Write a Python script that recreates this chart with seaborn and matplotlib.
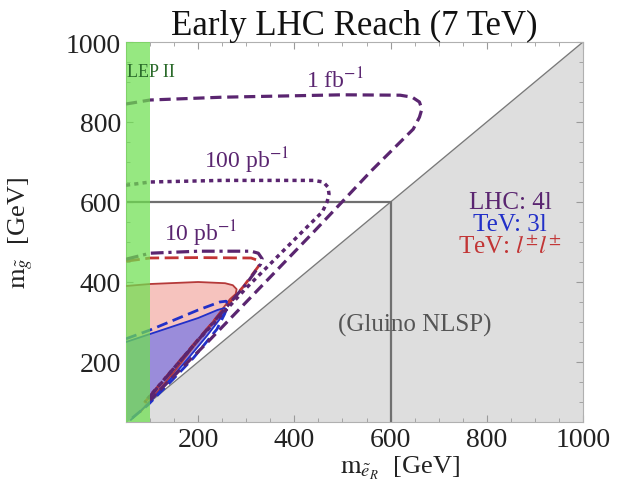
import numpy as np
import pandas as pd
import matplotlib
matplotlib.use("Agg")
import matplotlib.pyplot as plt
import seaborn as sns

# ---------------- data ----------------
# LHC 4l, 1 fb^-1 (purple dashed)
fb1_x = [50, 100, 250, 500, 620, 645, 660, 665, 660, 647, 626, 560, 499, 440, 340, 220, 100]
fb1_y = [845, 855, 862, 868, 867, 862, 850, 832, 812, 782, 757, 678, 600, 525, 400, 250, 105]
# LHC 4l, 100 pb^-1 (purple dotted)
pb100_x = [50, 100, 250, 440, 460, 470, 472, 468, 458, 420, 300, 200, 95]
pb100_y = [642, 650, 654, 654, 650, 637, 620, 600, 575, 530, 385, 255, 108]
# LHC 4l, 10 pb^-1 (purple dash-dot)
pb10_x = [50, 100, 200, 310, 325, 333, 330, 300, 200, 90]
pb10_y = [457, 472, 477, 477, 472, 458, 445, 395, 255, 100]
# Tevatron l+-l+- (red dashed)
ss_dash_x = [50, 100, 200, 310, 322, 327, 295, 195, 88]
ss_dash_y = [452, 460, 461, 460, 455, 442, 390, 250, 98]
# Tevatron l+-l+- (red solid, filled)
ss_x = [50, 100, 200, 256, 272, 280, 278, 266, 230, 150, 80, 50]
ss_y = [390, 395, 400, 397, 392, 382, 370, 357, 300, 175, 75, 50]
# Tevatron 3l (blue solid, filled)
tl_x = [50, 100, 150, 200, 240, 255, 260, 250, 218, 180, 148, 100, 60, 50]
tl_y = [250, 270, 290, 310, 330, 335, 330, 315, 265, 210, 165, 100, 55, 50]
# Tevatron 3l (blue dashed)
tl_dash_x = [50, 100, 150, 200, 245, 258, 262, 255, 239, 190, 148, 95, 55]
tl_dash_y = [258, 280, 305, 330, 350, 352, 345, 320, 282, 210, 157, 92, 52]

lep_bound = 100          # LEP II excluded slepton mass
gluino_line = 600        # reference lines at 600 GeV
lims = [50, 1000]
xticks = [200, 400, 600, 800, 1000]
yticks = [200, 400, 600, 800, 1000]

# ---------------- style ----------------
sns.set_style("ticks")
plt.rcParams["font.family"] = ["Liberation Serif", "DejaVu Serif"]
plt.rcParams["mathtext.fontset"] = "stix"

purple = "#5a2570"
blue = "#2230c8"
red = "#c23535"

fig = plt.figure(figsize=(6.29, 4.89), dpi=100)
ax = fig.add_axes([126 / 629, 66 / 489, 457 / 629, 380 / 489])

# gluino-NLSP triangle
ax.fill_between(lims, lims, [lims[0], lims[0]], color="#dedede", zorder=0, lw=0)
ax.plot(lims, lims, color="#7a7a7a", lw=1.0, zorder=1)

# filled Tevatron regions
ax.fill(ss_x, ss_y, color="#f6c3be", lw=0, zorder=1)
ax.fill(tl_x, tl_y, color="#9a8cda", lw=0, zorder=1.1)

def line(x, y, color, ls, lw=2.3, z=3):
    df = pd.DataFrame({"x": x, "y": y})
    sns.lineplot(data=df, x="x", y="y", sort=False, estimator=None, ax=ax,
                 color=color, linestyle=ls, lw=lw, zorder=z)

line(ss_x[:-1], ss_y[:-1], "#b53a3a", "-", lw=1.3)
line(tl_x[:-1], tl_y[:-1], blue, "-", lw=1.3)
line(tl_dash_x, tl_dash_y, blue, (0, (4, 2)), lw=2.0)
line(ss_dash_x, ss_dash_y, red, (0, (5, 2)), lw=2.0)
line(pb10_x, pb10_y, purple, (0, (4, 1.5, 1, 1.5)), lw=2.3)
line(pb100_x, pb100_y, purple, (0, (1.2, 1.2)), lw=2.5)
line(fb1_x, fb1_y, purple, (0, (3.5, 1.8)), lw=2.3)

# LEP II band
ax.axvspan(lims[0], lep_bound, color="#6ee050", alpha=0.72, lw=0, zorder=4)

# 600 GeV reference lines
ax.plot([lims[0], gluino_line], [gluino_line, gluino_line], color="#707070", lw=1.6, zorder=2)
ax.plot([gluino_line, gluino_line], [lims[0], gluino_line], color="#707070", lw=1.6, zorder=2)

# texts
ax.text(53, 927, "LEP II", color="#2a6a2a", fontsize=13, va="center", ha="left", zorder=5)
ax.text(485, 905, r"1 fb$^{-1}$", color=purple, fontsize=17, ha="center", va="center")
ax.text(300, 705, r"100 pb$^{-1}$", color=purple, fontsize=17, ha="center", va="center")
ax.text(205, 523, r"10 pb$^{-1}$", color=purple, fontsize=17, ha="center", va="center")
ax.text(848, 600, "LHC: 4l", color=purple, fontsize=18, ha="center", va="center")
ax.text(848, 545, "TeV: 3l", color=blue, fontsize=18, ha="center", va="center")
ax.text(848, 487, r"TeV: $l^{\pm}l^{\pm}$", color=red, fontsize=18, ha="center", va="center")
ax.text(651, 295, "(Gluino NLSP)", color="#555555", fontsize=18, ha="center", va="center")

ax.set_xlim(lims)
ax.set_ylim(lims)
ax.set_xticks(xticks)
ax.set_yticks(yticks)
ax.set_xticks(np.arange(100, 1000, 50), minor=True)
ax.set_yticks(np.arange(100, 1000, 50), minor=True)
ax.tick_params(which="both", direction="in", top=True, right=True, color="#9a9a9a",
               labelsize=20, labelcolor="#222222")
ax.tick_params(which="major", length=5, width=0.8)
ax.tick_params(which="minor", length=3, width=0.6)
for s in ax.spines.values():
    s.set_color("#b0b0b0")
    s.set_linewidth(0.8)

ax.set_title("Early LHC Reach (7 TeV)", fontsize=25, pad=6, color="#111111")
ax.set_xlabel(r"$\mathrm{m}_{\tilde{e}_R}$  [GeV]", fontsize=19, color="#222222")
ax.set_ylabel(r"$\mathrm{m}_{\tilde{g}}$  [GeV]", fontsize=19, color="#222222")
ax.xaxis.set_label_coords(0.6, -0.085)
ax.yaxis.set_label_coords(-0.2, 0.5)

fig.savefig("out.png", dpi=100)
